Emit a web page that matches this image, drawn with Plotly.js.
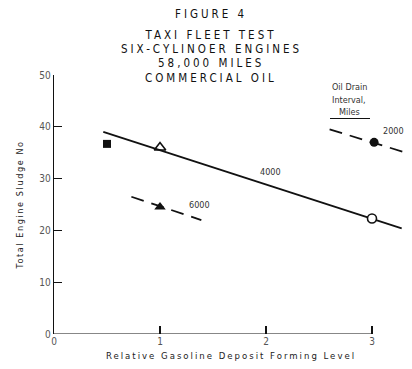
<!DOCTYPE html>
<html>
<head>
<meta charset="utf-8">
<script src="https://cdn.plot.ly/plotly-3.0.1.min.js"></script>
<style>
  html, body { margin: 0; padding: 0; background: #fff; }
  #chart { width: 412px; height: 369px; }
  .annotation[data-index="0"] .annotation-text,
  .annotation[data-index="1"] .annotation-text,
  .annotation[data-index="2"] .annotation-text,
  .annotation[data-index="3"] .annotation-text,
  .annotation[data-index="4"] .annotation-text { letter-spacing: 3px; }
  .xtitle { letter-spacing: 2px; }
  .ytitle { letter-spacing: 1.6px; }
</style>
</head>
<body>
<div id="chart"></div>
<script>
// ---- Data ----
const titleLines = ["FIGURE 4", "TAXI FLEET TEST", "SIX-CYLINOER ENGINES", "58,000 MILES", "COMMERCIAL OIL"];

// fitted trend lines (oil drain interval, miles)
const line4000X = [0.465, 3.28];
const line4000Y = [39.0, 20.4];
const line6000X = [0.73, 1.39];
const line6000Y = [26.5, 22.0];
const line2000X = [2.60, 3.37];
const line2000Y = [39.5, 34.7];

// individual data points
const squareX = [0.5];       const squareY = [36.7];
const openTriX = [1.0];      const openTriY = [36.0];
const fillTriX = [1.0];      const fillTriY = [24.5];
const fillCircX = [3.02];    const fillCircY = [37.0];
const openCircX = [3.0];     const openCircY = [22.3];

// line labels
const lineLabels = ["4000", "6000", "2000"];
const lineLabelX = [2.04, 1.37, 3.2];
const lineLabelY = [31.3, 25.0, 39.2];

const xTicks = [0, 1, 2, 3];
const yTicks = [0, 10, 20, 30, 40, 50];
const xTitle = "Relative Gasoline Deposit Forming Level";
const yTitle = "Total Engine Sludge No";
const legendTitle = ["Oil Drain", "Interval,", "Miles"];

// ---- Traces ----
const ink = "#111";
const traces = [
  { x: line4000X, y: line4000Y, mode: "lines", line: { color: ink, width: 1.8 }, hoverinfo: "skip" },
  { x: line6000X, y: line6000Y, mode: "lines", line: { color: ink, width: 1.8, dash: "13px,8px" }, hoverinfo: "skip" },
  { x: line2000X, y: line2000Y, mode: "lines", line: { color: ink, width: 1.8, dash: "13px,8px" }, hoverinfo: "skip" },
  { x: squareX, y: squareY, mode: "markers", marker: { symbol: "square", size: 8, color: ink } },
  { x: openTriX, y: openTriY, mode: "markers", marker: { symbol: "triangle-up-open", size: 10, color: ink, line: { width: 1.6, color: ink } } },
  { x: fillTriX, y: fillTriY, mode: "markers", marker: { symbol: "triangle-up", size: 10, color: ink } },
  { x: fillCircX, y: fillCircY, mode: "markers", marker: { symbol: "circle", size: 9, color: ink } },
  { x: openCircX, y: openCircY, mode: "markers", marker: { symbol: "circle", size: 9, color: "#fff", line: { width: 1.6, color: ink } } }
];

// ---- Annotations ----
const titleYpx = [14, 35, 49, 63.5, 77.5];
const plotTop = 75, plotBottom = 334, plotLeft = 54, plotRight = 408;
const pxToPaperY = p => (plotBottom - p) / (plotBottom - plotTop);
const pxToPaperX = p => (p - plotLeft) / (plotRight - plotLeft);

const annotations = [];
titleLines.forEach((t, i) => {
  annotations.push({
    text: t, xref: "paper", yref: "paper",
    x: pxToPaperX(211), y: pxToPaperY(titleYpx[i]),
    xanchor: "center", yanchor: "middle", showarrow: false,
    font: { family: "DejaVu Sans Condensed, DejaVu Sans", size: 11.5, color: "#111" }
  });
});
lineLabels.forEach((t, i) => {
  annotations.push({
    text: t, xref: "x", yref: "y", x: lineLabelX[i], y: lineLabelY[i],
    xanchor: "center", yanchor: "middle", showarrow: false,
    font: { family: "Liberation Sans Narrow, DejaVu Sans Condensed", size: 9, color: "#333" }
  });
});
const legendYpx = [87, 100, 112];
legendTitle.forEach((t, i) => {
  annotations.push({
    text: t, xref: "paper", yref: "paper",
    x: pxToPaperX(349), y: pxToPaperY(legendYpx[i]),
    xanchor: "center", yanchor: "middle", showarrow: false,
    font: { family: "DejaVu Sans Condensed, DejaVu Sans", size: 9, color: "#333" }
  });
});

const shapes = [
  // x axis line only spans 0..3
  { type: "line", xref: "x", yref: "y", x0: 0, x1: 3, y0: 0, y1: 0, line: { color: ink, width: 1.2 } },
  // underline of legend title
  { type: "line", xref: "paper", yref: "paper", x0: pxToPaperX(330), x1: pxToPaperX(370),
    y0: pxToPaperY(118.5), y1: pxToPaperY(118.5), line: { color: ink, width: 1 } }
];

const layout = {
  width: 412, height: 369,
  margin: { l: plotLeft, r: 412 - plotRight, t: plotTop, b: 369 - plotBottom },
  paper_bgcolor: "#fff", plot_bgcolor: "#fff",
  showlegend: false,
  xaxis: {
    range: [0, (plotRight - plotLeft) / 106],
    tickvals: xTicks, ticktext: xTicks.map(String),
    ticks: "inside", ticklen: 8, tickwidth: 1.2, tickcolor: ink,
    showgrid: false, zeroline: false, showline: false,
    tickfont: { family: "Liberation Sans Narrow, DejaVu Sans Condensed", size: 10, color: "#555" },
    title: { text: xTitle, standoff: 6, font: { family: "DejaVu Sans Condensed, DejaVu Sans", size: 9.5, color: "#222" } }
  },
  yaxis: {
    range: [0, 50],
    tickvals: yTicks, ticktext: yTicks.map(String),
    ticks: "inside", ticklen: 8, tickwidth: 1.2, tickcolor: ink,
    showgrid: false, zeroline: false, showline: true, linecolor: ink, linewidth: 1.2,
    tickfont: { family: "Liberation Sans Narrow, DejaVu Sans Condensed", size: 10, color: "#555" },
    title: { text: yTitle, standoff: 14, font: { family: "DejaVu Sans Condensed, DejaVu Sans", size: 9, color: "#222" } }
  },
  annotations: annotations,
  shapes: shapes
};

Plotly.newPlot("chart", traces, layout, { staticPlot: true, displayModeBar: false });
</script>
</body>
</html>
